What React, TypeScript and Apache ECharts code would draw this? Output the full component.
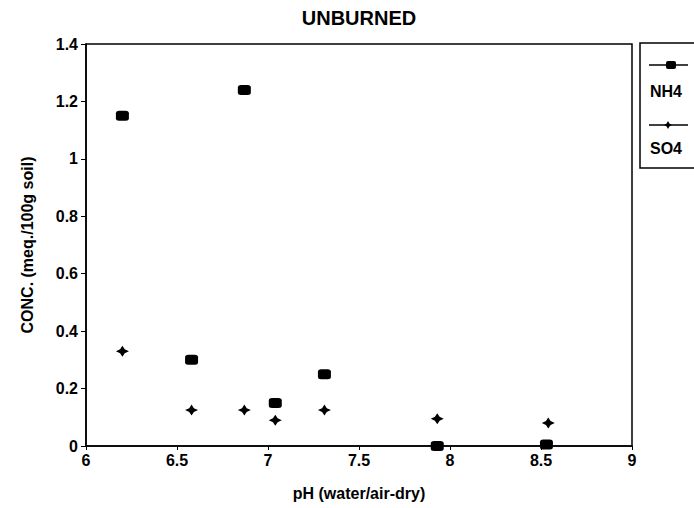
import React, { useEffect, useRef } from "react";
import * as echarts from "echarts";

const nh4X = [6.2, 6.87, 6.58, 7.04, 7.31, 7.93, 8.53];
const nh4Y = [1.15, 1.24, 0.3, 0.15, 0.25, 0.0, 0.005];
const so4X = [6.2, 6.58, 6.87, 7.04, 7.31, 7.93, 8.54];
const so4Y = [0.33, 0.125, 0.125, 0.09, 0.125, 0.095, 0.08];
const seriesNames = ["NH4", "SO4"];
const titleText = "UNBURNED";
const xName = "pH (water/air-dry)";
const yName = "CONC. (meq./100g soil)";

const FONT = "'Liberation Sans', Arial, sans-serif";
const STAR = "path://M0,-10 L3.6,-3.6 L10,0 L3.6,3.6 L0,10 L-3.6,3.6 L-10,0 L-3.6,-3.6 Z";

export default function App() {
  const ref = useRef<HTMLDivElement>(null);
  useEffect(() => {
    document.body.style.margin = "0";
    if (!ref.current) return;
    const chart = echarts.init(ref.current, undefined, { renderer: "svg" });
    const nh4 = nh4X.map((x, i) => [x, nh4Y[i]]);
    const so4 = so4X.map((x, i) => [x, so4Y[i]]);
    chart.setOption({
      animation: false,
      backgroundColor: "#fff",
      title: {
        text: titleText,
        left: 354,
        textAlign: "center",
        top: 3,
        textStyle: { fontFamily: FONT, fontSize: 20, fontWeight: "bold", color: "#000" },
      },
      grid: {
        left: 86,
        right: 62,
        top: 44,
        bottom: 62,
        show: true,
        borderColor: "#000",
        borderWidth: 1.5,
      },
      xAxis: {
        type: "value",
        min: 6,
        max: 9,
        interval: 0.5,
        name: xName,
        nameLocation: "middle",
        nameGap: 39,
        nameTextStyle: { fontFamily: FONT, fontSize: 16, fontWeight: "bold", color: "#000" },
        axisLine: { show: true, lineStyle: { color: "#000", width: 1.5 } },
        axisTick: { show: true, length: 4, lineStyle: { color: "#000" } },
        splitLine: { show: false },
        axisLabel: { margin: 6, fontFamily: FONT, fontSize: 16, fontWeight: "bold", color: "#000" },
      },
      yAxis: {
        type: "value",
        min: 0,
        max: 1.4,
        interval: 0.2,
        name: yName,
        nameLocation: "middle",
        nameGap: 51,
        nameRotate: 90,
        nameTextStyle: { fontFamily: FONT, fontSize: 16, fontWeight: "bold", color: "#000" },
        axisLine: { show: true, lineStyle: { color: "#000", width: 1.5 } },
        axisTick: { show: true, length: 5, lineStyle: { color: "#000" } },
        splitLine: { show: false },
        axisLabel: { margin: 8, fontFamily: FONT, fontSize: 16, fontWeight: "bold", color: "#000" },
      },
      series: [
        {
          name: seriesNames[0],
          type: "scatter",
          data: nh4,
          symbol: "roundRect",
          symbolSize: [13, 10],
          itemStyle: { color: "#000", opacity: 1 },
        },
        {
          name: seriesNames[1],
          type: "scatter",
          data: so4,
          symbol: STAR,
          symbolSize: [13, 11],
          itemStyle: { color: "#000", opacity: 1 },
        },
      ],
      graphic: [
        {
          type: "rect",
          shape: { x: 640, y: 43, width: 70, height: 125 },
          style: { fill: "none", stroke: "#000", lineWidth: 1.5 },
        },
        {
          type: "line",
          shape: { x1: 649, y1: 65, x2: 688, y2: 65 },
          style: { stroke: "#000", lineWidth: 1.5 },
        },
        {
          type: "rect",
          shape: { x: 666, y: 61, width: 10, height: 8, r: 2 },
          style: { fill: "#000" },
        },
        {
          type: "text",
          x: 650,
          y: 91,
          style: { text: seriesNames[0], fontFamily: FONT, fontSize: 16, fontWeight: "bold", fill: "#000", verticalAlign: "middle" },
        },
        {
          type: "line",
          shape: { x1: 649, y1: 125, x2: 688, y2: 125 },
          style: { stroke: "#000", lineWidth: 1.5 },
        },
        {
          type: "polygon",
          shape: { points: [[668, 121], [669.4, 123.6], [672, 125], [669.4, 126.4], [668, 129], [666.6, 126.4], [664, 125], [666.6, 123.6]] },
          style: { fill: "#000" },
        },
        {
          type: "text",
          x: 650,
          y: 148,
          style: { text: seriesNames[1], fontFamily: FONT, fontSize: 16, fontWeight: "bold", fill: "#000", verticalAlign: "middle" },
        },
      ],
    });
    return () => chart.dispose();
  }, []);
  return <div ref={ref} style={{ width: 694, height: 508 }} />;
}
